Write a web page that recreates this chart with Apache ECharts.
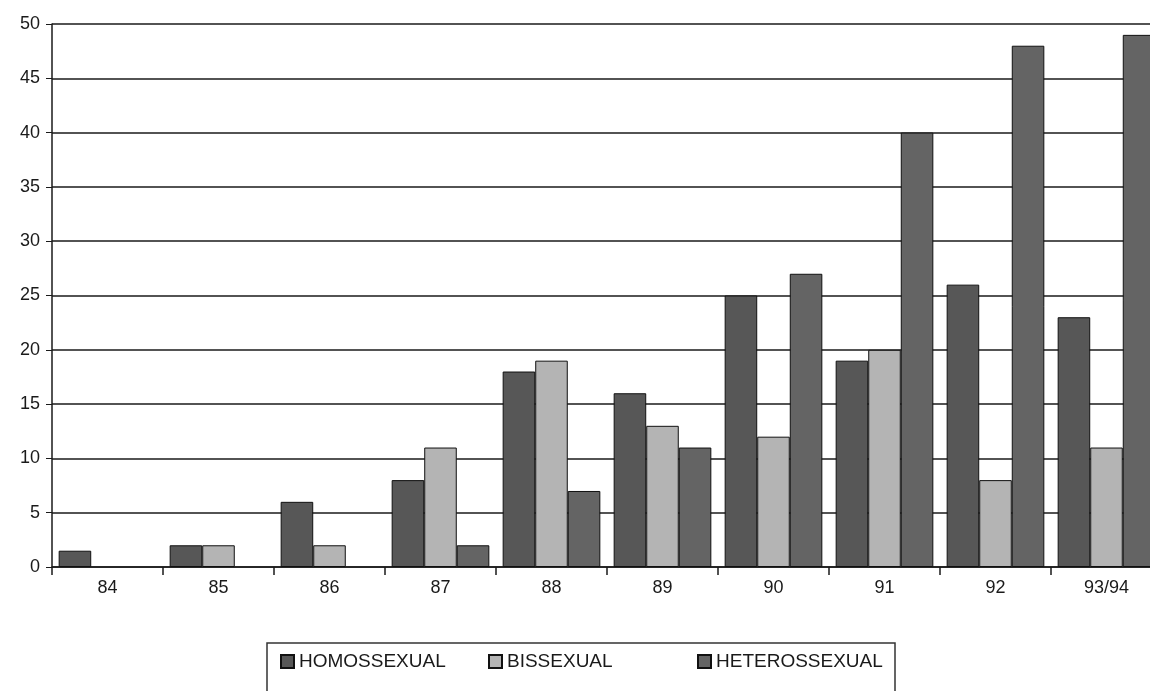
<!DOCTYPE html>
<html>
<head>
<meta charset="utf-8">
<script src="https://cdn.jsdelivr.net/npm/echarts@6/dist/echarts.min.js"></script>
<style>html,body{margin:0;padding:0;background:#fff;overflow:hidden}#c{width:1150px;height:691px}</style>
</head>
<body>
<div id="c"></div>
<script>
const categories = ['84','85','86','87','88','89','90','91','92','93/94'];
const homossexual = [1.5, 2, 6, 8, 18, 16, 25, 19, 26, 23];
const bissexual = [0, 2, 2, 11, 19, 13, 12, 20, 8, 11];
const heterossexual = [0, 0, 0, 2, 7, 11, 27, 40, 48, 49];
const seriesNames = ['HOMOSSEXUAL', 'BISSEXUAL', 'HETEROSSEXUAL'];
const yTicks = [0, 5, 10, 15, 20, 25, 30, 35, 40, 45, 50];

const colors = ['#575757', '#b4b4b4', '#646464'];
const font = 'Liberation Sans';

const chart = echarts.init(document.getElementById('c'), null, {renderer: 'canvas'});
function mk(name, data, color) {
  return {
    name: name, type: 'bar', data: data.map(v => v === 0 ? null : v), barGap: '0%', barCategoryGap: '12%',
    itemStyle: {color: color, borderColor: '#111', borderWidth: 1},
    emphasis: {disabled: true}
  };
}
function lg(name, left) {
  return {
    data: [name], left: left, top: 652, icon: 'rect', itemWidth: 13, itemHeight: 13,
    itemGap: 0, padding: 0,
    textStyle: {fontFamily: font, fontSize: 19, color: '#1a1a1a', letterSpacing: -1.2}
  };
}
chart.setOption({
  animation: false,
  color: colors,
  grid: {left: 52, width: 1110, top: 24, height: 543, outerBoundsMode: 'none', containLabel: false},
  legend: [lg(seriesNames[0], 280), lg(seriesNames[1], 488), lg(seriesNames[2], 697)],
  xAxis: {
    type: 'category', data: categories,
    axisLine: {lineStyle: {color: '#1a1a1a', width: 1.5}},
    axisTick: {show: true, length: 8, lineStyle: {color: '#1a1a1a', width: 1.5}},
    axisLabel: {fontFamily: font, fontSize: 18, color: '#1a1a1a', margin: 12, letterSpacing: -1}
  },
  yAxis: {
    type: 'value', min: yTicks[0], max: yTicks[yTicks.length - 1], interval: 5,
    axisLine: {show: true, lineStyle: {color: '#1a1a1a', width: 1.5}},
    axisTick: {show: true, length: 6, lineStyle: {color: '#1a1a1a'}},
    splitLine: {lineStyle: {color: '#1a1a1a', width: 1.5}},
    axisLabel: {fontFamily: font, fontSize: 18, color: '#1a1a1a', margin: 12, letterSpacing: -1}
  },
  graphic: [{
    type: 'rect', shape: {x: 267, y: 643, width: 628, height: 60},
    style: {fill: 'none', stroke: '#333', lineWidth: 1.5}, silent: true, z: -1
  }],
  series: [
    mk(seriesNames[0], homossexual, colors[0]),
    mk(seriesNames[1], bissexual, colors[1]),
    mk(seriesNames[2], heterossexual, colors[2])
  ]
});
</script>
</body>
</html>
